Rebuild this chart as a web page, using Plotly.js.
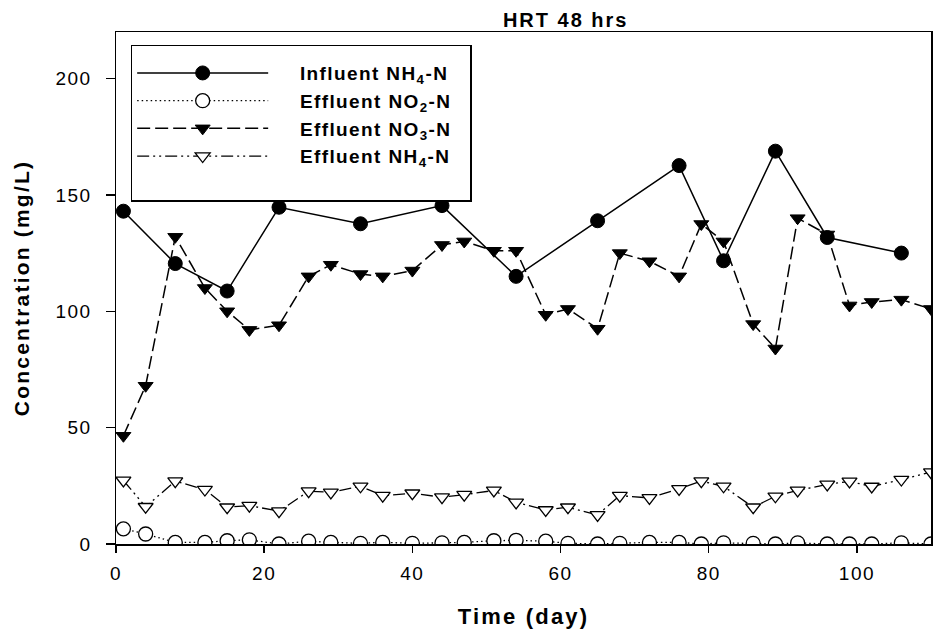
<!DOCTYPE html>
<html>
<head>
<meta charset="utf-8">
<script src="https://cdn.plot.ly/plotly-3.0.1.min.js"></script>
<style>
html, body { margin: 0; padding: 0; background: #fff; }
#chart { width: 935px; height: 631px; }
svg text { letter-spacing: 1.5px; }
svg text.legendtext { letter-spacing: 1.4px; }
svg text.gtitle { letter-spacing: 2px; }
svg text.xtitle, svg text.ytitle { letter-spacing: 2.2px; }
</style>
</head>
<body>
<div id="chart"></div>
<script>
// ---- data ----
const days = [1,4,8,12,15,18,22,26,29,33,36,40,44,47,51,54,58,61,65,68,72,76,79,82,86,89,92,96,99,102,106,110];
const influentDays = [1,8,15,22,33,44,54,65,76,82,89,96,106];
const influentNH4 = [143,120.5,108.7,144.7,137.6,145.4,115,138.9,162.6,121.7,168.8,131.7,125];
const effluentNO2 = [6.5,4.3,0.7,0.7,1.4,1.8,0,1.2,0.7,0.3,0.7,0.3,0.5,0.7,1.4,1.6,1.2,0.3,0,0.3,0.7,0.7,0,0.5,0.3,0,0.5,0,0,0,0.5,0];
const effluentNO3 = [46.5,68,132,110,100,92,94,115,120,116,115,117.5,128.5,130,126,126,98.5,101,92.5,125,121.5,115,137.5,130,94.5,84,140,133,102.5,104,105,101];
const effluentNH4 = [27.3,16,27,23.4,15.8,16.5,14.1,22.7,22.2,24.8,20.8,21.8,20.1,21.2,23,17.9,14.6,15.8,12.5,20.8,19.8,23.7,27,24.8,15.8,20.5,23,25.6,26.9,24.7,27.7,30.9];
const seriesNames = ['Influent NH<sub>4</sub>-N','Effluent NO<sub>2</sub>-N','Effluent NO<sub>3</sub>-N','Effluent NH<sub>4</sub>-N'];
const xTicks = [0,20,40,60,80,100];
const yTicks = [0,50,100,150,200];

const FONT = 'Arial, "Liberation Sans", Helvetica, sans-serif';
const PAD = '\u00A0\u00A0\u00A0\u00A0';
const TAIL = '\u00A0\u00A0';

const traces = [
  {x: influentDays, y: influentNH4, name: PAD + seriesNames[0] + TAIL, mode: 'lines+markers',
   line: {color: '#000', width: 1.5, dash: 'solid'},
   marker: {symbol: 'circle', size: 14, color: '#000', line: {color: '#000', width: 1}}},
  {x: days, y: effluentNO2, name: PAD + seriesNames[1] + TAIL, mode: 'lines+markers',
   line: {color: '#000', width: 1.3, dash: '1.5px,3px'},
   marker: {symbol: 'circle', size: 14, color: '#fff', line: {color: '#000', width: 1.3}}},
  {x: days, y: effluentNO3, name: PAD + seriesNames[2] + TAIL, mode: 'lines+markers',
   line: {color: '#000', width: 1.5, dash: '13px,5px'},
   marker: {symbol: 'triangle-down', size: 13, color: '#000', line: {color: '#000', width: 1}}},
  {x: days, y: effluentNH4, name: PAD + seriesNames[3] + TAIL + '<br>\u00A0', mode: 'lines+markers',
   line: {color: '#000', width: 1.3, dash: '12px,4px,2px,4px,2px,4px'},
   marker: {symbol: 'triangle-down', size: 13, color: '#fff', line: {color: '#000', width: 1.3}}}
];

const layout = {
  width: 935, height: 631,
  margin: {l: 116, r: 4, t: 32, b: 87, autoexpand: false},
  paper_bgcolor: '#fff', plot_bgcolor: '#fff',
  font: {family: FONT, color: '#000', size: 19},
  title: {text: '<b>HRT 48 hrs</b>', font: {family: FONT, size: 20, color: '#000'},
          xref: 'container', x: 0.605, xanchor: 'center', yref: 'container', y: 0.968, yanchor: 'middle'},
  showlegend: true,
  legend: {x: 0.018, y: 0.975, xanchor: 'left', yanchor: 'top', bgcolor: '#fff',
           bordercolor: '#000', borderwidth: 1.5, font: {family: FONT, size: 19, color: '#000', weight: 'bold'},
           itemwidth: 131, tracegroupgap: 0, valign: 'top',
           title: {text: '\u00A0', font: {family: FONT, size: 6}}},
  xaxis: {range: [0, 110], tickvals: xTicks, ticks: 'outside', ticklen: 7, tickwidth: 1.5, tickcolor: '#000',
          showline: true, linecolor: '#000', linewidth: 1.5, mirror: true, showgrid: false, zeroline: false,
          ticklabelstandoff: 5,
          tickfont: {family: FONT, size: 19, color: '#000'},
          title: {text: '<b>Time (day)</b>', font: {family: FONT, size: 22, color: '#000'}, standoff: 25}},
  yaxis: {range: [0, 220], tickvals: yTicks, ticks: 'outside', ticklen: 9, tickwidth: 1.5, tickcolor: '#000',
          showline: true, linecolor: '#000', linewidth: 1.5, mirror: true, showgrid: false, zeroline: false,
          ticklabelstandoff: 10,
          tickfont: {family: FONT, size: 19, color: '#000'},
          title: {text: '<b>Concentration (mg/L)</b>', font: {family: FONT, size: 21, color: '#000'}, standoff: 20}}
};

Plotly.newPlot('chart', traces, layout, {displayModeBar: false, staticPlot: true});
</script>
</body>
</html>
